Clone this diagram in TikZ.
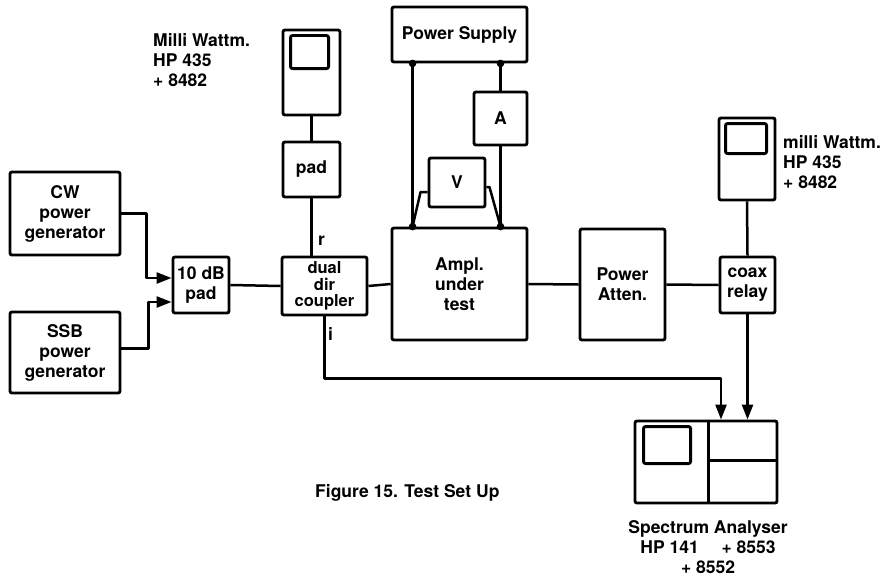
\documentclass[tikz,border=0pt]{standalone}
\usepackage{fontspec}
\setmainfont{TeX Gyre Heros}
\usetikzlibrary{arrows.meta}
\begin{document}
\begin{tikzpicture}[x=1pt,y=-1pt,
  every node/.style={font=\bfseries\fontsize{17.5}{20}\selectfont},
  unit/.style={draw,line width=2.9pt,rounded corners=2pt,align=center,inner sep=0pt},
  wire/.style={line width=2.5pt,line join=round},
  feed/.style={wire,-{Triangle[length=15pt,width=11pt]}},
  tag/.style={inner sep=0pt}]
  \useasboundingbox (0,0) rectangle (888,578);
  \node[unit,minimum width=110,minimum height=83] (cw) at (65,213.5) {CW\\power\\generator};
  \node[unit,minimum width=110,minimum height=81] (ssb) at (65,352.5) {SSB\\power\\generator};
  \node[unit,minimum width=56,minimum height=56] (pad10) at (201,285) {10 dB\\pad};
  \node[unit,minimum width=85,minimum height=58,
        font=\bfseries\fontsize{16.5}{16.5}\selectfont] (coupler) at (324.5,286) {dual\\dir\\coupler};
  \node[unit,minimum width=57,minimum height=85] (wattL) at (311.5,72.5) {};
  \node[unit,minimum width=57,minimum height=55] (padL) at (311.5,169.5) {pad};
  \node[unit,minimum width=135,minimum height=55] (psu) at (459.5,34.5) {Power Supply};
  \node[unit,minimum width=53,minimum height=53] (amm) at (500.5,118.5) {A};
  \node[unit,minimum width=56,minimum height=49] (volt) at (457,182.5) {V};
  \node[unit,minimum width=135,minimum height=112] (ampl) at (459.5,284) {Ampl.\\under\\test};
  \node[unit,minimum width=85,minimum height=111] (atten) at (622.5,284.5) {Power\\Atten.};
  \node[unit,minimum width=55,minimum height=56] (relay) at (747.5,285) {coax\\relay};
  \node[unit,minimum width=56,minimum height=82] (wattR) at (747,159) {};
  \node[unit,minimum width=142,minimum height=82] (spec) at (706,462) {};

  \draw[unit] ([shift={(9,7)}]wattL.north west) rectangle +(38,33);
  \draw[unit] ([shift={(8,7)}]wattR.north west) rectangle +(41,30);
  \draw[unit] ([shift={(10,7)}]spec.north west) rectangle +(47,37);
  \draw[wire,line width=2.9pt] ([xshift=75pt]spec.north west) -- ([xshift=75pt]spec.south west)
    ([shift={(75,41)}]spec.north west) -- ([yshift=-41pt]spec.north east);

  \node[tag,align=left,anchor=north west] (lblL) at (153,33) {Milli Wattm.\\HP 435\\+ 8482};
  \node[tag,align=left,anchor=north west] (lblR) at (783,135) {milli Wattm.\\HP 435\\+ 8482};
  \node[tag,align=center,anchor=north] (lblS) at (708,520) {Spectrum Analyser\\HP 141\hspace{1.3em}+ 8553\\+ 8552};
  \node[tag,anchor=base west] (caption) at (315,497) {Figure 15. Test Set Up};
  \node[tag,anchor=base west] (rport) at (318,245) {r};
  \node[tag,anchor=base west] (iport) at (328,340) {i};

  \draw[feed] (cw.east) -- ++(25,0) |- ([yshift=7pt]pad10.west);
  \draw[feed] ([yshift=4pt]ssb.east) -- ++(27,0) |- ([yshift=-17pt]pad10.west);
  \draw[wire] (pad10.east) -- (coupler.west);
  \draw[wire] (wattL.south) -- (padL.north);
  \draw[wire] (padL.south) -- (padL.south |- coupler.north);
  \draw[wire] (coupler.east) -- (ampl.west);
  \draw[wire] (ampl.east) -- (atten.west);
  \draw[wire] (atten.east) -- (relay.west);
  \draw[wire] (wattR.south) -- (relay.north);
  \draw[feed] (relay.south) -- (relay.south |- spec.north);
  \draw[feed] (coupler.south) -- ++(0,62) -| ([xshift=15pt]spec.north);

  \coordinate (psA) at ([xshift=22pt]psu.south west);
  \coordinate (amA) at ([xshift=22pt]ampl.north west);
  \coordinate (psB) at (amm.north |- psu.south);
  \coordinate (amB) at (amm.south |- ampl.north);
  \draw[wire] (psA) -- (amA);
  \draw[wire] (psB) -- (amm.north);
  \draw[wire] (amm.south) -- (amB);
  \draw[wire] ([yshift=-9.5pt]volt.west) -- ++(-7,0) -- (amA);
  \draw[wire] ([yshift=-4.5pt]volt.east) -- ++(3,0) -- (amB);
  \foreach \p in {psA,amA,psB,amB}
    \fill (\p) circle (3.8pt);
\end{tikzpicture}
\end{document}
